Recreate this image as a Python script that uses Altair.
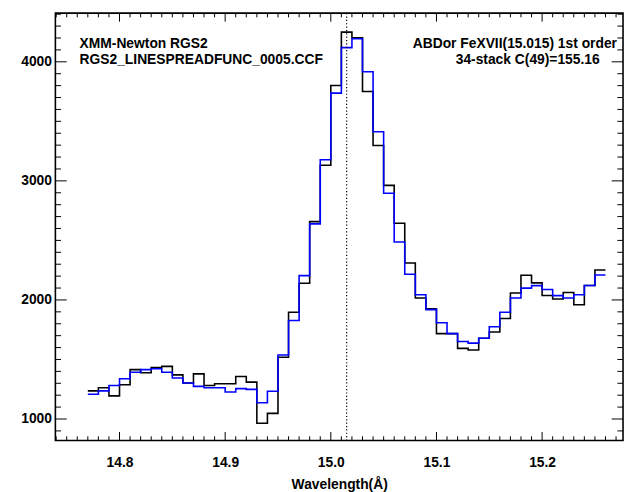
import altair as alt
import pandas as pd

# ---- data ----
bin_start = 14.77
bin_width = 0.01
counts_data = [1236, 1263, 1194, 1288, 1415, 1388, 1433, 1442, 1371, 1302,
               1379, 1282, 1296, 1296, 1357, 1310, 964, 1047, 1518, 1897,
               2140, 2658, 3131, 3801, 4249, 4202, 3751, 3297, 2962, 2644,
               2310, 2016, 1925, 1717, 1717, 1593, 1579, 1678, 1731, 1844,
               2058, 2207, 2143, 2038, 2008, 2063, 1960, 2121, 2251]
counts_model = [1208, 1236, 1282, 1338, 1393, 1415, 1422, 1393, 1344, 1302,
                1274, 1263, 1263, 1227, 1255, 1249, 1136, 1233, 1537, 1828,
                2204, 2639, 3178, 3737, 4119, 4193, 3917, 3413, 2896, 2486,
                2216, 2043, 1919, 1808, 1717, 1651, 1637, 1678, 1775, 1897,
                2016, 2099, 2120, 2088, 2036, 2016, 2043, 2121, 2210]
line_center = [15.015]
x_major = [14.8, 14.9, 15.0, 15.1, 15.2]
y_major = [1000, 2000, 3000, 4000]
x_minor = [round(14.74 + 0.01 * i, 2) for i in range(54) if (i + 4) % 10 != 0]
y_minor = [900 + 100 * i for i in range(36) if (9 + i) % 10 != 0]
text_left = ["XMM-Newton RGS2", "RGS2_LINESPREADFUNC_0005.CCF"]
text_right = ["ABDor FeXVII(15.015) 1st order", "34-stack C(49)=155.16"]

n = len(counts_data)
edges = [round(bin_start + bin_width * i, 3) for i in range(n + 1)]
df_data = pd.DataFrame({"wl": edges, "cnt": counts_data + [counts_data[-1]]})
df_model = pd.DataFrame({"wl": edges, "cnt": counts_model + [counts_model[-1]]})
df_rule = pd.DataFrame({"x": line_center})

W, H = 575, 433
FONT = "Liberation Sans"
xs = alt.Scale(domain=[14.7393, 15.2766], nice=False, zero=False)
ys = alt.Scale(domain=[819, 4409], nice=False, zero=False)

XMAJ, XMIN = 8.7, 4.3
YMAJ, YMIN = 11.5, 5.7

black = alt.Chart(df_data).mark_line(
    interpolate="step-after", color="#000000", strokeWidth=1.6
).encode(
    x=alt.X("wl:Q", scale=xs, axis=alt.Axis(
        orient="bottom", values=x_major, format=".1f", title="Wavelength(Å)",
        grid=False, ticks=False, domain=False, labelPadding=15,
        labelFont=FONT, labelFontSize=14, labelFontWeight="bold", labelColor="black",
        titleFont=FONT, titleFontSize=14, titleFontWeight="bold", titleColor="black",
        titlePadding=9)),
    y=alt.Y("cnt:Q", scale=ys, axis=alt.Axis(
        orient="left", values=y_major, format="d", title=None,
        grid=False, ticks=False, domain=False, labelPadding=4,
        labelFont=FONT, labelFontSize=14, labelFontWeight="bold", labelColor="black")),
)

blue = alt.Chart(df_model).mark_line(
    interpolate="step-after", color="#0000ff", strokeWidth=1.6
).encode(
    x=alt.X("wl:Q", scale=xs, axis=None),
    y=alt.Y("cnt:Q", scale=ys, axis=None),
)

rule = alt.Chart(df_rule).mark_rule(
    color="black", strokeWidth=1.2, strokeDash=[1.2, 2.2]
).encode(x=alt.X("x:Q", scale=xs, axis=None))


def xticks(vals, length):
    base = alt.Chart(pd.DataFrame({"v": vals})).mark_rule(color="black", strokeWidth=1)
    bottom = base.encode(x=alt.X("v:Q", scale=xs, axis=None),
                         y=alt.value(H), y2=alt.value(H - length))
    top = base.encode(x=alt.X("v:Q", scale=xs, axis=None),
                      y=alt.value(0), y2=alt.value(length))
    return [bottom, top]


def yticks(vals, length):
    base = alt.Chart(pd.DataFrame({"v": vals})).mark_rule(color="black", strokeWidth=1)
    left = base.encode(y=alt.Y("v:Q", scale=ys, axis=None),
                       x=alt.value(0), x2=alt.value(length))
    right = base.encode(y=alt.Y("v:Q", scale=ys, axis=None),
                        x=alt.value(W), x2=alt.value(W - length))
    return [left, right]


ticks = (xticks(x_major, XMAJ) + xticks(x_minor, XMIN)
         + yticks(y_major, YMAJ) + yticks(y_minor, YMIN))


def label(txt, px, py):
    return alt.Chart(pd.DataFrame({"t": [txt]})).mark_text(
        align="left", baseline="alphabetic", font=FONT, fontSize=14,
        fontWeight="bold", color="black"
    ).encode(text="t:N", x=alt.value(px), y=alt.value(py))


texts = [
    label(text_left[0], 24.5, 35),
    label(text_left[1], 24.5, 51.5),
    label(text_right[0], 362, 35),
    label(text_right[1], 405.5, 51.5),
]

chart = alt.layer(black, blue, rule, *ticks, *texts).resolve_axis(
    x="independent", y="independent"
).properties(
    width=W, height=H,
    autosize=alt.AutoSizeParams(type="none"),
    padding={"left": 48, "top": 2, "right": 2, "bottom": 54},
).configure_view(stroke="black", strokeWidth=1.6)

chart.save("out.html", embed_options={"renderer": "svg", "actions": False})
